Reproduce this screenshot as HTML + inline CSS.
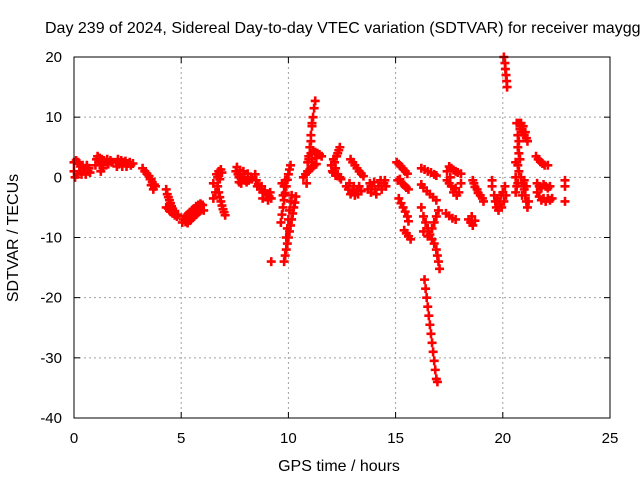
<!DOCTYPE html>
<html><head><meta charset="utf-8"><style>
body{margin:0;background:#fff;width:640px;height:480px;overflow:hidden}
svg{font-family:"Liberation Sans",sans-serif}
</style></head><body>
<svg width="640" height="480" id="c">
<rect width="640" height="480" fill="#fff"/>
<text x="45" y="33" font-size="16" fill="#000">Day 239 of 2024, Sidereal Day-to-day VTEC variation (SDTVAR) for receiver maygg</text>
<text x="339" y="471" font-size="16" text-anchor="middle">GPS time / hours</text>
<text transform="translate(18,238) rotate(-90)" font-size="16" text-anchor="middle">SDTVAR / TECUs</text>
<g id="grid"></g><g id="ticks"></g><g id="pts"></g>
<rect x="74" y="57" width="536" height="361" fill="none" stroke="#000" stroke-width="1"/>
</svg>
<script>
const xTicks=[0,5,10,15,20,25];
const yTicks=[-40,-30,-20,-10,0,10,20];
const tracks=[
[[0,1],[0,2.5],[0.05,0],[0.1,2.8],[0.15,0.5],[0.2,2.5],[0.25,1],[0.3,1.8],[0.35,0.5],[0.4,2],[0.45,1],[0.5,1.5],[0.55,0.5],[0.6,2],[0.65,1],[0.7,1.5],[0.75,0.8]],
[[1,2],[1.05,3],[1.1,3.5],[1.15,2.5],[1.2,3.2],[1.25,2],[1.3,3],[1.35,1.5],[1.4,2.8],[1.5,2.5],[1.55,3],[1.6,2.2],[1.7,2.8],[1.75,2.5],[1.8,2.5],[1.25,1]],
[[1.95,2.5],[2,1.8],[2.05,3],[2.1,2.2],[2.2,2.8],[2.25,1.8],[2.3,2.5],[2.4,2.7],[2.45,1.8],[2.5,2.3],[2.6,2.5],[2.65,2],[2.75,2.3]],
[[3.2,1.5],[3.3,1],[3.4,0.6],[3.5,0.2],[3.55,-0.3],[3.6,-0.3],[3.65,-0.8],[3.75,-1.2],[3.8,-1.5],[3.6,-1.3],[3.7,-2]],
[[4.3,-2],[4.35,-2.8],[4.4,-3.3],[4.45,-3.8],[4.5,-4.3],[4.55,-4.8],[4.6,-5.2],[4.3,-5],[4.4,-5.2],[4.5,-5.7],[4.6,-6],[4.7,-6.3],[4.8,-6.5],[4.85,-6.2],[4.7,-5.6]],
[[5.05,-7.5],[5.1,-7],[5.2,-6.5],[5.3,-6.2],[5.4,-5.8],[5.5,-5.5],[5.6,-5.2],[5.7,-4.8],[5.8,-4.6],[5.9,-4.4],[6,-4.6],[5.2,-7.4],[5.3,-7.6],[5.4,-7.2],[5.5,-6.8],[5.6,-6.5],[5.7,-6.2],[5.8,-5.8],[5.9,-5.5],[6.05,-5.5]],
[[6.5,-1],[6.5,-3.5],[6.6,-2.5],[6.65,0.5],[6.7,0],[6.75,1],[6.85,1.3],[6.9,0.8],[6.8,-0.3]],
[[6.7,-1.5],[6.75,-2.5],[6.8,-3.3],[6.85,-4],[6.9,-4.7],[6.95,-5.3],[7,-5.8],[7.05,-6.3]],
[[7.55,1],[7.6,1.7],[7.65,0.5],[7.7,0],[7.75,1.2],[7.8,-0.3],[7.9,1],[7.95,0],[8,-0.5],[8.05,-0.8],[8.1,0.6],[8.15,-0.5],[8.25,0],[8.3,-0.3],[7.7,-0.8],[7.8,-1]],
[[8.45,0.5],[8.5,-0.5],[8.55,-1.5],[8.6,-1.1],[8.7,-2],[8.75,-1.5],[8.8,-2.5],[8.9,-2.2],[8.95,-3],[9,-2.7],[9.1,-3.2],[9.15,-2.5],[9.2,-3.5],[9.05,-3.8],[8.8,-3.5]],
[[9.2,-14]],
[[9.65,-7.5],[9.7,-6.2],[9.75,-5],[9.8,-3.8],[9.85,-2.6],[9.9,-1.5],[9.95,-0.4],[10,0.5],[10.05,1.3],[10.1,2],[9.75,-3],[9.8,-1.5],[9.7,-1],[9.85,-0.5]],
[[9.8,-14],[9.85,-13],[9.9,-12],[9.95,-11],[10,-10],[10.05,-9],[10.1,-8],[10.15,-7],[10.2,-6],[10.25,-5],[10.3,-4.2],[10.35,-3.2],[9.9,-10],[9.95,-8.5],[10,-7],[10.05,-5.5],[10.1,-4],[10.15,-3]],
[[10.85,-1],[10.9,1],[10.95,3],[11,5],[11.05,7],[11.1,8.5],[11.15,10],[11.2,11.5],[11.25,12.7],[11.05,6],[11.1,9]],
[[10.9,2.5],[10.95,3.5],[11.05,4],[11.15,4.4],[11.25,4.2],[11.35,4],[11.45,3.8],[11.55,3.5],[11.1,3],[11.3,3.2]],
[[10.7,0],[10.8,0.5],[10.9,1],[11,1.3],[11.1,1.6],[11.2,2],[11.3,2.2]],
[[12,2],[12.05,1],[12.1,3],[12.15,2.5],[12.2,1.5],[12.25,3.5],[12.3,4],[12.35,4.5],[12.4,5],[12.3,0.5],[12.4,0],[12.45,-0.3],[12.2,0.3],[12.1,0.8]],
[[12.9,3],[13,2.5],[13.1,2],[13.2,1.5],[13.3,1],[13.4,0.6],[13.5,0.2]],
[[12.7,-1.5],[12.8,-2],[12.85,-1],[12.9,-2.8],[13,-2.3],[13.05,-1.5],[13.1,-3],[13.2,-2],[13.25,-2.8],[13.3,-1.5],[13.4,-2.3]],
[[13.7,-2],[13.8,-1],[13.85,-2.5],[13.9,-1.5],[14,-0.8],[14.05,-2],[14.1,-2.8],[14.2,-1.5],[14.3,-0.5],[14.35,-2],[14.45,-1],[14.5,-0.5],[14.55,-1.5]],
[[15.05,2.5],[15.15,2.2],[15.25,1.8],[15.35,1.4],[15.45,1],[15.55,0.6]],
[[15.1,-0.5],[15.2,-0.3],[15.3,-1],[15.4,-1.3],[15.5,-1.7],[15.6,-2]],
[[15.15,-3.5],[15.25,-4.3],[15.35,-5],[15.45,-5.7],[15.55,-6.5],[15.6,-7.3]],
[[15.4,-8.8],[15.5,-9.3],[15.6,-9.8],[15.7,-10.3]],
[[16.2,1.5],[16.35,1.3],[16.5,1],[16.65,0.8],[16.8,0.5],[16.9,0.3]],
[[16.2,-1.2],[16.3,-1.7],[16.45,-2.3],[16.6,-2.8],[16.75,-3.3],[16.9,-3.8]],
[[16.2,-5],[16.3,-6.5],[16.4,-7.5],[16.5,-8.5],[16.6,-9.5],[16.7,-8.5],[16.8,-7.5],[16.9,-6.5],[17,-5.5],[16.3,-9],[16.5,-9.8],[16.7,-10.3],[16.8,-11],[16.9,-12],[16.95,-13],[17,-14],[17.05,-15.2]],
[[16.35,-17],[16.4,-18.5],[16.45,-20],[16.5,-21.5],[16.55,-23],[16.6,-24.5],[16.65,-26],[16.7,-27.5],[16.75,-29],[16.8,-30.5],[16.85,-32],[16.9,-33.5],[16.95,-34]],
[[17.4,1],[17.5,1.8],[17.6,1.5],[17.7,1.2],[17.8,1],[17.9,0.8],[18.05,0.6]],
[[17.4,-0.5],[17.5,-1],[17.55,0],[17.6,-1.5],[17.7,-2.5],[17.8,-1.8],[17.85,-3],[17.95,-2.5],[18.05,-1]],
[[17.35,-6],[17.5,-6.4],[17.65,-6.8],[17.8,-7]],
[[18.6,-0.5],[18.65,-1],[18.7,-1.6],[18.8,-2],[18.85,-2.6],[18.95,-3],[19.05,-3.5],[19.1,-4]],
[[18.4,-7],[18.5,-7.5],[18.55,-6.5],[18.6,-8],[18.7,-7.2]],
[[19.5,-0.5],[19.5,-1.5],[19.6,-3],[19.65,-4],[19.7,-5],[19.75,-3.5],[19.8,-5.5],[19.85,-4.5],[19.9,-3],[19.95,-5],[20,-2.5],[20.05,-4],[20.1,-1.5],[20.15,-3]],
[[20.05,20],[20.1,19],[20.12,18],[20.15,17],[20.18,16],[20.2,15]],
[[20.65,9],[20.75,9],[20.8,8],[20.85,9],[20.9,7.5],[20.95,8.5],[21,7],[21.05,7.5],[21.1,6.5],[21.15,6],[20.7,7],[20.75,6],[20.7,5],[20.75,4],[20.8,3],[20.7,2],[20.75,1],[20.85,0],[20.9,-1],[21,-2],[21.05,-3],[21.1,-4],[21.15,-5],[21.2,-4],[20.9,-3],[21,-0.5],[21.1,-1.5],[20.6,2.5],[20.6,0]],
[[20.6,-2.5],[20.65,-1.5],[20.7,-1]],
[[21.55,3.5],[21.65,3],[21.75,2.6],[21.85,2.3],[21.95,2],[22.1,2]],
[[21.6,-1],[21.7,-1.5],[21.8,-1.8],[21.9,-1.2],[22,-1.5],[22.1,-1.8],[22.2,-1.5]],
[[21.6,-2.5],[21.7,-3.2],[21.8,-3.8],[21.9,-3.5],[22,-4],[22.1,-3.5],[22.2,-3.8],[22.3,-3.5]],
[[22.9,-0.5],[22.9,-1.5],[22.9,-4]]
];
const X=t=>74+t*536/25, Y=v=>418-(v+40)*361/60;
const NS='http://www.w3.org/2000/svg';
const grid=document.getElementById('grid'),ticks=document.getElementById('ticks'),pts=document.getElementById('pts');
function mk(tag,attrs,parent){const e=document.createElementNS(NS,tag);for(const k in attrs)e.setAttribute(k,attrs[k]);parent.appendChild(e);return e;}
xTicks.forEach(t=>{const x=X(t);
 if(t>0&&t<25){const g=mk('line',{x1:x,x2:x,y1:57,y2:418,stroke:'#a0a0a0','stroke-dasharray':'2,3'},grid);
 
 }
 mk('line',{x1:x,x2:x,y1:418,y2:412,stroke:'#000'},ticks);mk('line',{x1:x,x2:x,y1:57,y2:63,stroke:'#000'},ticks);
 const l=mk('text',{x:x,y:443,'font-size':'15','text-anchor':'middle'},ticks);l.textContent=t;
 
 });
yTicks.forEach(v=>{const y=Y(v);
 if(v>-40&&v<20){const g=mk('line',{x1:74,x2:610,y1:y,y2:y,stroke:'#a0a0a0','stroke-dasharray':'2,3'},grid);
 
 }
 mk('line',{x1:74,x2:80,y1:y,y2:y,stroke:'#000'},ticks);mk('line',{x1:604,x2:610,y1:y,y2:y,stroke:'#000'},ticks);
 const l=mk('text',{x:62,y:y+5,'font-size':'15','text-anchor':'end'},ticks);l.textContent=v;
 
 });
tracks.forEach(tr=>{let d='';tr.forEach(p=>{const x=X(p[0]),y=Y(p[1]);d+=`M${x-4.5},${y}h9M${x},${y-4.5}v9`;});
 const p=mk('path',{d:d,stroke:'#f00','stroke-width':'2.6',fill:'none'},pts);
 
 });
</script>
</body></html>
